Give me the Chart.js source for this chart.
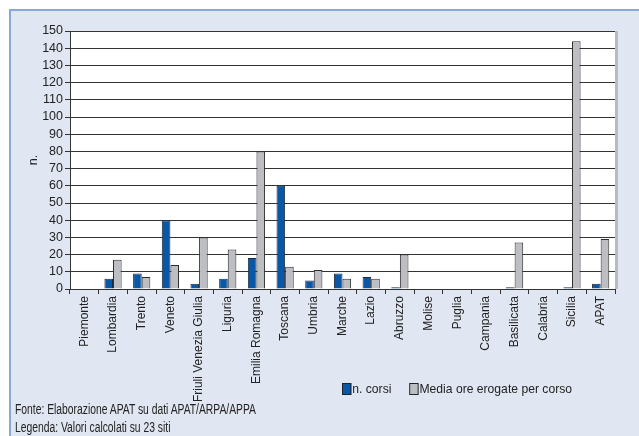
<!DOCTYPE html>
<html>
<head>
<meta charset="utf-8">
<script src="https://cdn.jsdelivr.net/npm/chart.js@4.4.1/dist/chart.umd.min.js"></script>
<style>
  html, body { margin: 0; padding: 0; background: #fff; }
  body { width: 639px; height: 436px; position: relative; overflow: hidden;
         font-family: "Liberation Sans", Arial, sans-serif; }
  #panel { position: absolute; left: 9px; top: 9px; width: 630px; height: 427px;
           background: #e1e7f2; border-left: 2px solid #86a9d6; border-top: 2px solid #86a9d6; }
  #wrap { position: absolute; left: 11px; top: 11px; width: 628px; height: 400px; }
  #legend { position: absolute; left: 342px; top: 381px; font-size: 13px; color: #222; display: flex;
            white-space: nowrap; transform-origin: left center; }
  #legend span.item { display: flex; align-items: center; margin-right: 19px; }
  #legend span.box { display: inline-block; width: 8px; height: 10px; border: 1px solid #222; margin-right: 1px; }
  .note { position: absolute; left: 15px; font-size: 14px; color: #222; white-space: nowrap;
          transform-origin: left center; }
</style>
</head>
<body>
<div id="panel"></div>
<div id="wrap"><canvas id="myChart"></canvas></div>
<div id="legend"></div>
<div class="note" id="fonte" style="top:401px">Fonte: Elaborazione APAT su dati APAT/ARPA/APPA</div>
<div class="note" id="legenda" style="top:419px">Legenda: Valori calcolati su 23 siti</div>
<script>
// dati
var regioni = ["Piemonte", "Lombardia", "Trento", "Veneto", "Friuli Venezia Giulia", "Liguria",
  "Emilia Romagna", "Toscana", "Umbria", "Marche", "Lazio", "Abruzzo", "Molise", "Puglia",
  "Campania", "Basilicata", "Calabria", "Sicilia", "APAT"];
var nCorsi = [0, 6, 9, 40, 3, 6, 18, 60, 5, 9, 7, 1, 0, 0, 0, 1, 0, 1, 3];
var mediaOre = [0, 17, 7, 14, 30, 23, 80, 13, 11, 6, 6, 20, 0, 0, 0, 27, 0, 144, 29];
var yTicks = [0, 10, 20, 30, 40, 50, 60, 70, 80, 90, 100, 110, 120, 130, 140, 150];

var FONT = "'Liberation Sans', Arial, sans-serif";

// fondo bianco del riquadro + ombra a destra + bordo sopra
var plotFrame = {
  id: "plotFrame",
  beforeDraw: function (chart) {
    var a = chart.chartArea, c = chart.ctx;
    c.save();
    c.fillStyle = "#ffffff";
    c.fillRect(a.left, a.top, a.right - a.left, a.bottom - a.top);
    c.fillStyle = "#b9bcc2";
    c.fillRect(a.right, a.top, 3, a.bottom - a.top);
    c.strokeStyle = "#333";
    c.lineWidth = 1;
    c.beginPath();
    c.moveTo(a.left, a.top + 0.5);
    c.lineTo(a.right, a.top + 0.5);
    c.stroke();
    c.restore();
  }
};

var ctx = document.getElementById("myChart");
var chart = new Chart(ctx, {
  type: "bar",
  data: {
    labels: regioni,
    datasets: [
      { label: "n. corsi", data: nCorsi, backgroundColor: "#0957a6", borderColor: "#1d2a3a", borderWidth: 1 },
      { label: "Media ore erogate per corso", data: mediaOre, backgroundColor: "#bcbec4", borderColor: "#2e2e2e", borderWidth: 1 }
    ]
  },
  options: {
    responsive: true,
    maintainAspectRatio: false,
    animation: false,
    layout: { padding: { top: 20, right: 24, left: 0, bottom: 0 } },
    datasets: { bar: { categoryPercentage: 0.6, barPercentage: 1.0 } },
    plugins: { legend: { display: false }, tooltip: { enabled: false } },
    scales: {
      x: {
        offset: true,
        grid: { display: true, drawOnChartArea: false, offset: true, color: "#333", tickLength: 5 },
        border: { color: "#333" },
        ticks: { maxRotation: 90, minRotation: 90, autoSkip: false, color: "#222", padding: 2,
                 font: { family: FONT, size: 12 } },
        afterFit: function (s) { s.height = 122; }
      },
      y: {
        min: 0, max: 150,
        afterBuildTicks: function (s) { s.ticks = yTicks.map(function (v) { return { value: v }; }); },
        grid: { color: "#333", tickLength: 5, drawTicks: true },
        border: { color: "#333" },
        ticks: { autoSkip: false, color: "#222", padding: 2, font: { family: FONT, size: 12.5 } },
        title: { display: true, text: "n.", color: "#222", font: { family: FONT, size: 12.5 },
                 padding: { top: 15, bottom: 0 } },
        afterFit: function (s) { s.width = 59; }
      }
    }
  },
  plugins: [plotFrame]
});

// legenda HTML costruita dai dataset
var leg = document.getElementById("legend");
chart.data.datasets.forEach(function (d) {
  var it = document.createElement("span");
  it.className = "item";
  var b = document.createElement("span");
  b.className = "box";
  b.style.background = d.backgroundColor;
  it.appendChild(b);
  it.appendChild(document.createTextNode(d.label));
  leg.appendChild(it);
});

// il font originale e' condensato: stringo i testi HTML in larghezza
function squeeze(el, target) {
  var w = el.getBoundingClientRect().width;
  el.style.transform = "scaleX(" + (target / w) + ")";
}
var f = document.getElementById("fonte");
var k = 241 / f.getBoundingClientRect().width;
f.style.transform = "scaleX(" + k + ")";
document.getElementById("legenda").style.transform = "scaleX(" + k + ")";
leg.lastChild.style.marginRight = "0px";
squeeze(leg, 230);
</script>
</body>
</html>
